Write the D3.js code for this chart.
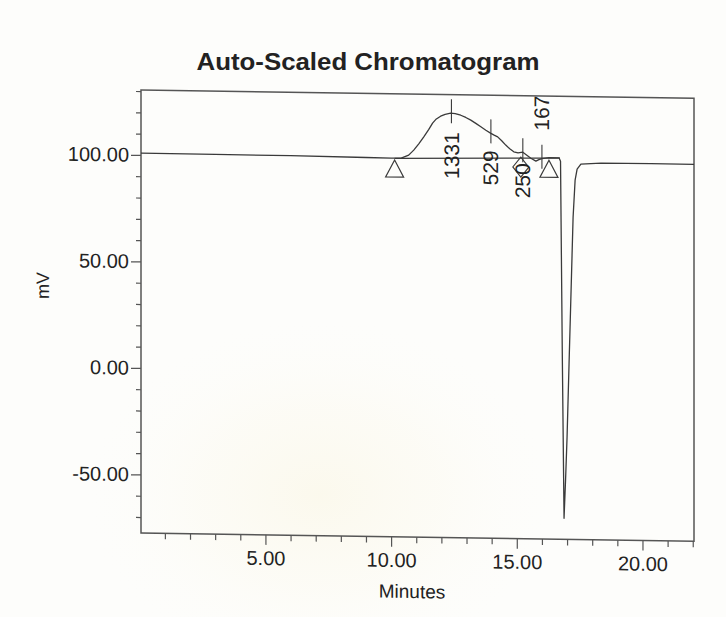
<!DOCTYPE html>
<html><head><meta charset="utf-8">
<script src="https://cdn.jsdelivr.net/npm/d3@7"></script>
<style>
body{margin:0;background:#fdfdfb}
svg text{font-family:"Liberation Sans",Arial,sans-serif;fill:#222}
</style>
</head><body>
<svg id="c" width="726" height="617"></svg>
<script>
// ---- data ----
const traceTime = [0.05,3.0,6.0,9.0,10.0,10.4,10.7,10.9,11.1,11.3,11.5,11.65,11.8,11.97,12.15,12.37,12.55,12.77,12.97,13.17,13.37,13.57,13.77,13.97,14.1,14.24,14.4,14.56,14.72,14.88,15.05,15.24,15.4,15.56,15.76,15.88,16.0,16.28,16.68,16.74,16.81,16.88,16.94,17.0,17.08,17.16,17.24,17.32,17.40,17.55,18.35,20.34,22.05];
const traceMV   = [100.9,100.8,100.7,100.4,100.3,100.3,101.8,104.2,107.2,110.5,114.0,117.0,119.0,120.3,121.2,121.8,121.6,120.9,119.9,118.7,117.2,115.6,114.0,112.6,111.8,111.0,109.2,107.2,105.5,104.1,103.6,104.0,102.6,101.2,99.9,100.6,101.1,101.6,101.6,100.0,10.0,-67.6,-49.7,-29.5,5.3,39.5,73.8,91.2,96.4,98.8,99.4,99.5,99.5];
const baselineTime = [10.14, 16.72];
const baselineMV   = [100.2, 101.5];
const peakTimes  = [12.40, 13.97, 15.24, 16.0];
const peakMV     = [121.8, 112.6, 104.0, 101.1];
const peakLabels = ["1331", "529", "250", "167"];
const triangleTimes = [10.14, 16.28];
const triangleMV    = [99.4, 100.4];
const diamondTimes = [15.16];
const diamondMV    = [97.0];
const xTickValues = [5, 10, 15, 20];
const xTickLabels = ["5.00", "10.00", "15.00", "20.00"];
const yTickValues = [100, 50, 0, -50];
const yTickLabels = ["100.00", "50.00", "0.00", "-50.00"];
const xMinor = d3.range(1, 23).filter(d => !xTickValues.includes(d));
const yMinor = d3.range(-70, 131, 10).filter(d => !yTickValues.includes(d));

// ---- layout ----
const L = 141, R = 694, T = 90, B = 533;
const svg = d3.select("#c");
const x = d3.scaleLinear([0.05, 22.05], [L, R]);
const y = d3.scaleLinear([-77.5, 130.5], [B, T]);
const ink = "#3a3a3a";

// faint paper watermark glow
const defs = svg.append("defs");
const rg = defs.append("radialGradient").attr("id", "wm");
rg.append("stop").attr("offset", "0%").attr("stop-color", "#f7efcc").attr("stop-opacity", 0.3);
rg.append("stop").attr("offset", "50%").attr("stop-color", "#faf4dc").attr("stop-opacity", 0.18);
rg.append("stop").attr("offset", "100%").attr("stop-color", "#fdfdfb").attr("stop-opacity", 0);
svg.append("ellipse").attr("cx", 320).attr("cy", 495).attr("rx", 240).attr("ry", 180)
  .attr("fill", "url(#wm)");

svg.append("text").attr("x", 368).attr("y", 70).attr("text-anchor", "middle")
  .attr("font-size", 24).attr("font-weight", "bold")
  .attr("textLength", 343).attr("lengthAdjust", "spacingAndGlyphs")
  .text("Auto-Scaled Chromatogram");

const skew = Math.atan(8.3 / (R - L)) * 180 / Math.PI;
const g = svg.append("g").attr("transform", `translate(${L},0) skewY(${skew}) translate(${-L},0)`);

// frame
g.append("rect").attr("x", L).attr("y", T).attr("width", R - L).attr("height", B - T)
  .attr("fill", "none").attr("stroke", "#555").attr("stroke-width", 1.5);

// axes
const yAx = g.append("g").attr("transform", `translate(${L},0)`)
  .call(d3.axisLeft(y).tickValues(yTickValues).tickSize(10).tickPadding(2)
    .tickFormat((d, i) => yTickLabels[i]));
const yAxMinor = g.append("g").attr("transform", `translate(${L},0)`)
  .call(d3.axisLeft(y).tickValues(yMinor).tickSize(5).tickFormat(""));
const xAx = g.append("g").attr("transform", `translate(0,${B})`)
  .call(d3.axisBottom(x).tickValues(xTickValues).tickSize(10).tickPadding(6)
    .tickFormat((d, i) => xTickLabels[i]));
const xAxMinor = g.append("g").attr("transform", `translate(0,${B})`)
  .call(d3.axisBottom(x).tickValues(xMinor).tickSize(6).tickFormat(""));
[yAx, yAxMinor, xAx, xAxMinor].forEach(a => {
  a.select(".domain").remove();
  a.selectAll("line").attr("stroke", "#555").attr("stroke-width", 1.2);
  a.selectAll("text").attr("font-size", 20).attr("fill", "#222")
    .attr("font-family", "'Liberation Sans',Arial,sans-serif");
});

// axis titles
g.append("text").attr("x", 412).attr("y", 594).attr("text-anchor", "middle")
  .attr("font-size", 19).text("Minutes");
g.append("text").attr("transform", "translate(49,287) rotate(-90)")
  .attr("text-anchor", "middle").attr("font-size", 18).text("mV");

// integration baseline
g.append("path").datum(baselineTime.map((t, i) => [t, baselineMV[i]]))
  .attr("d", d3.line(d => x(d[0]), d => y(d[1])))
  .attr("fill", "none").attr("stroke", ink).attr("stroke-width", 1.2);

// trace
g.append("path").datum(traceTime.map((t, i) => [t, traceMV[i]]))
  .attr("d", d3.line(d => x(d[0]), d => y(d[1])))
  .attr("fill", "none").attr("stroke", ink).attr("stroke-width", 1.3)
  .attr("stroke-linejoin", "round");

// triangles (peak start/end marks)
triangleTimes.forEach((t, i) => {
  const cx = x(t), cy = y(triangleMV[i]);
  g.append("path").attr("d", `M${cx},${cy}L${cx - 9},${cy + 17}L${cx + 9},${cy + 17}Z`)
    .attr("fill", "none").attr("stroke", ink).attr("stroke-width", 1.2);
});
// diamond
diamondTimes.forEach((t, i) => {
  const cx = x(t), cy = y(diamondMV[i]);
  g.append("path").attr("d", `M${cx},${cy - 10}L${cx + 8},${cy}L${cx},${cy + 10}L${cx - 8},${cy}Z`)
    .attr("fill", "none").attr("stroke", ink).attr("stroke-width", 1.1);
});

// peak marks + labels
const labelGap = [19, 17, 11, -28];
peakTimes.forEach((t, i) => {
  const px = x(t), py = y(peakMV[i]);
  g.append("line").attr("x1", px).attr("x2", px).attr("y1", py - 14).attr("y2", py + 10)
    .attr("stroke", ink).attr("stroke-width", 1.1);
  const below = labelGap[i] > 0;
  g.append("text")
    .attr("transform", `translate(${px},${py + labelGap[i]}) rotate(-90)`)
    .attr("text-anchor", below ? "end" : "start").attr("dy", "0.36em")
    .attr("font-size", 21).text(peakLabels[i]);
});
</script>
</body></html>
